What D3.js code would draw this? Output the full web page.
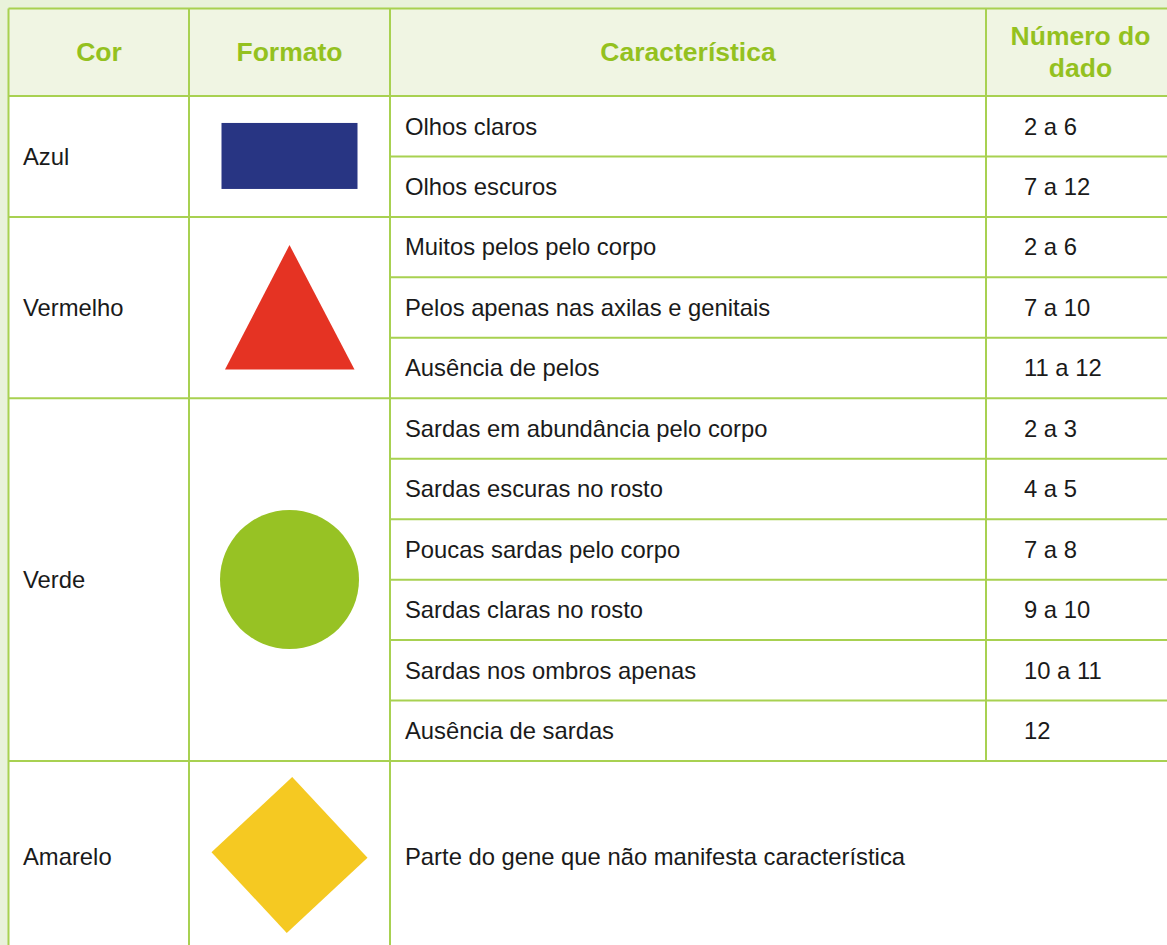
<!DOCTYPE html>
<html><head><meta charset="utf-8">
<script src="https://cdn.jsdelivr.net/npm/d3@7/dist/d3.min.js"></script>
<style>html,body{margin:0;padding:0;background:#e9f2db;overflow:hidden}</style>
</head><body><svg id="c" width="1167" height="945"></svg>
<script>
const headers = ["Cor", "Formato", "Característica", ["Número do", "dado"]];
const cores = ["Azul", "Vermelho", "Verde", "Amarelo"];
const formatos = ["rect", "triangle", "circle", "diamond"];
const caracteristicas = [
  ["Olhos claros", "Olhos escuros"],
  ["Muitos pelos pelo corpo", "Pelos apenas nas axilas e genitais", "Ausência de pelos"],
  ["Sardas em abundância pelo corpo", "Sardas escuras no rosto", "Poucas sardas pelo corpo", "Sardas claras no rosto", "Sardas nos ombros apenas", "Ausência de sardas"],
  ["Parte do gene que não manifesta característica"]
];
const numeros = [
  ["2 a 6", "7 a 12"],
  ["2 a 6", "7 a 10", "11 a 12"],
  ["2 a 3", "4 a 5", "7 a 8", "9 a 10", "10 a 11", "12"],
  [""]
];

const shapeColor = {rect:"#283583", triangle:"#e53323", circle:"#97c224", diamond:"#f5c922"};
const lineColor = "#a8d151", headColor = "#94c11f", headBg = "#f0f5e3";
const font = "'Liberation Sans', Arial, sans-serif";

const svg = d3.select("#c");
const colEdges = [8.5, 189, 390, 986, 1200];
const x = d3.scaleOrdinal().domain([0,1,2,3,4]).range(colEdges);
const nSub = 11;
const y = d3.scaleLinear().domain([0, nSub]).range([96, 761]);
const headerTop = 8.5, bottom = 990;

let start = 0;
const groups = cores.map((c, i) => {
  const n = i < 3 ? caracteristicas[i].length : null;
  const g = {i, cor:c, fmt:formatos[i], start, n};
  if (n) start += n;
  return g;
});
function gTop(g){ return y(g.start); }
function gBot(g){ return g.n ? y(g.start + g.n) : bottom; }

svg.append("rect").attr("x", x(0)).attr("y", headerTop).attr("width", 1200).attr("height", 96 - headerTop).attr("fill", headBg);
svg.append("rect").attr("x", x(0)).attr("y", 96).attr("width", 1200).attr("height", bottom).attr("fill", "#fff");

const hx = [99, 289.5, 688, 1080.5];
headers.forEach((h, i) => {
  const t = svg.append("text").attr("x", hx[i]).attr("text-anchor", "middle")
    .attr("font-family", font).attr("font-weight", "bold").attr("font-size", 26.5).attr("fill", headColor);
  const lines = Array.isArray(h) ? h : [h];
  const y0 = 52 - (lines.length - 1) * 16;
  lines.forEach((l, k) => t.append("tspan").attr("x", hx[i]).attr("y", y0 + k * 32).attr("dy", "0.35em").text(l));
});

const txt = (sel) => sel.attr("font-family", font).attr("font-size", 23.8).attr("fill", "#1a1a1a").attr("dy", "0.35em");
groups.forEach(g => {
  const mid = g.n ? (gTop(g) + gBot(g)) / 2 : 857;
  txt(svg.append("text").attr("x", 23).attr("y", mid)).text(g.cor);
  const subs = caracteristicas[g.i];
  subs.forEach((s, k) => {
    const cy = g.n ? (y(g.start + k) + y(g.start + k + 1)) / 2 : 857;
    txt(svg.append("text").attr("x", 405).attr("y", cy)).text(s);
    if (numeros[g.i][k]) txt(svg.append("text").attr("x", 1024).attr("y", cy)).text(numeros[g.i][k]);
  });
  const cx = 289.5, cy = g.n ? mid : 855;
  const col = shapeColor[g.fmt];
  if (g.fmt === "rect") {
    svg.append("rect").attr("x", cx - 68).attr("y", cy - 33.5).attr("width", 136).attr("height", 66).attr("fill", col);
  } else if (g.fmt === "triangle") {
    svg.append("path").attr("d", `M${cx},245 L${cx+65},369.5 L${cx-64.5},369.5 Z`).attr("fill", col);
  } else if (g.fmt === "circle") {
    svg.append("circle").attr("cx", cx).attr("cy", 579.5).attr("r", 69.5).attr("fill", col);
  } else {
    svg.append("rect").attr("x", -55.2).attr("y", -55.2).attr("width", 110.4).attr("height", 110.4)
      .attr("transform", `translate(${cx},${cy}) rotate(47)`).attr("fill", col);
  }
});

const L = svg.append("g").attr("stroke", lineColor).attr("stroke-width", 2);
colEdges.slice(0, 3).forEach(cx => L.append("line").attr("x1", cx).attr("x2", cx).attr("y1", headerTop).attr("y2", bottom));
// number column border stops where the last (merged) row begins
L.append("line").attr("x1", x(3)).attr("x2", x(3)).attr("y1", headerTop).attr("y2", y(nSub));
L.append("line").attr("x1", x(0)).attr("x2", 1200).attr("y1", headerTop).attr("y2", headerTop);
L.append("line").attr("x1", x(0)).attr("x2", 1200).attr("y1", 96).attr("y2", 96);
groups.forEach(g => { if (g.n) L.append("line").attr("x1", x(0)).attr("x2", 1200).attr("y1", gBot(g)).attr("y2", gBot(g)); });
groups.forEach(g => {
  if (!g.n) return;
  for (let k = 1; k < g.n; k++) L.append("line").attr("x1", x(2)).attr("x2", 1200).attr("y1", y(g.start + k)).attr("y2", y(g.start + k));
});
</script></body></html>
